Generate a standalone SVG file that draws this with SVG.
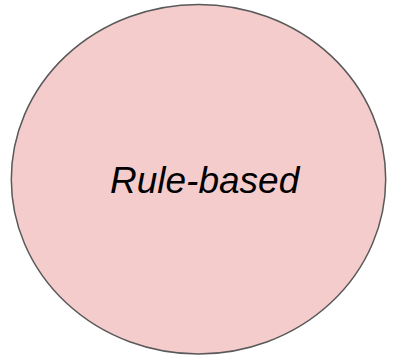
<svg xmlns="http://www.w3.org/2000/svg" width="397" height="358" viewBox="0 0 397 358">
<style>
.node{fill:#f4cccc;stroke:#595959;stroke-width:1.5}
.lbl{font-family:"Liberation Sans",Arial,sans-serif;font-style:italic;font-size:37px;fill:#000}
</style>
<g id="connectors"></g>
<g id="rule-based">
<ellipse class="node" cx="198.5" cy="179.2" rx="187.2" ry="174.8"/>
<text class="lbl" x="110" y="193">Rule-based</text>
</g>
</svg>
